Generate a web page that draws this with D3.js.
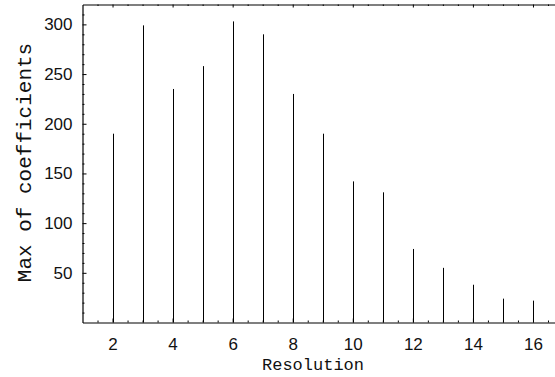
<!DOCTYPE html>
<html><head><meta charset="utf-8">
<script src="https://cdn.jsdelivr.net/npm/d3@7"></script>
<style>
body{margin:0;background:#fff;}
svg{display:block;}
</style></head>
<body><svg id="c" width="555" height="377"></svg>
<script>
const categories = [2,3,4,5,6,7,8,9,10,11,12,13,14,15,16];
const values = [190,299,235,258,303,290,230,190,142,131,74,55,38,24,22];
const xTicks = [2,4,6,8,10,12,14,16];
const xMinor = d3.range(1.5,17,0.5).filter(v=>v%2!==0);
const yTicks = [50,100,150,200,250,300];
const yMinor = d3.range(10,320,10).filter(v=>v%50!==0);
const xLabel = "Resolution";
const yLabel = "Max of coefficients";

const svg = d3.select("#c");
const x = d3.scaleLinear().domain([1,17]).range([82.5,563]);
const y = d3.scaleLinear().domain([0,320]).range([322.5,4.5]);

// bars
svg.append("g").selectAll("line").data(categories).join("line")
  .attr("x1",(d)=>Math.round(x(d))+0.5).attr("x2",(d)=>Math.round(x(d))+0.5)
  .attr("y1",y(0)).attr("y2",(d,i)=>y(values[i]))
  .attr("stroke","#000").attr("stroke-width",1);

// bottom axis
const gb = svg.append("g").attr("transform",`translate(0,${y(0)})`);
gb.call(d3.axisBottom(x).tickValues(xTicks).tickSize(-4).tickSizeOuter(0).tickPadding(15).tickFormat(d3.format("d")));
svg.append("g").attr("transform",`translate(0,${y(0)})`)
  .call(d3.axisBottom(x).tickValues(xMinor).tickSize(-2).tickSizeOuter(0).tickFormat(""))
  .select(".domain").remove();

// top axis
svg.append("g").attr("transform",`translate(0,${y.range()[1]})`)
  .call(d3.axisTop(x).tickValues(xTicks).tickSize(-3).tickSizeOuter(0).tickFormat(""));
svg.append("g").attr("transform",`translate(0,${y.range()[1]})`)
  .call(d3.axisTop(x).tickValues(xMinor).tickSize(-1.5).tickSizeOuter(0).tickFormat(""))
  .select(".domain").remove();

// left axis
svg.append("g").attr("transform",`translate(${x(1)},0)`)
  .call(d3.axisLeft(y).tickValues(yTicks).tickSize(-4).tickSizeOuter(0).tickPadding(10));
svg.append("g").attr("transform",`translate(${x(1)},0)`)
  .call(d3.axisLeft(y).tickValues(yMinor).tickSize(-2).tickSizeOuter(0).tickFormat(""))
  .select(".domain").remove();

svg.selectAll(".domain").attr("stroke","#000").attr("stroke-width",1.2);
svg.selectAll(".tick line").attr("stroke","#000");
svg.selectAll(".tick text")
  .style("font-family","'Liberation Sans',Arial,sans-serif")
  .style("font-size","17px").style("fill","#111");

// labels
svg.append("text").attr("x",313).attr("y",369.5).attr("text-anchor","middle")
  .style("font-family","'Liberation Mono','Courier New',monospace").style("font-size","17px").style("fill","#111")
  .text(xLabel);
svg.append("text").attr("transform","translate(31,162.5) rotate(-90)").attr("text-anchor","middle")
  .style("font-family","'Liberation Mono','Courier New',monospace").style("font-size","21px").style("fill","#111")
  .text(yLabel);
</script></body></html>
